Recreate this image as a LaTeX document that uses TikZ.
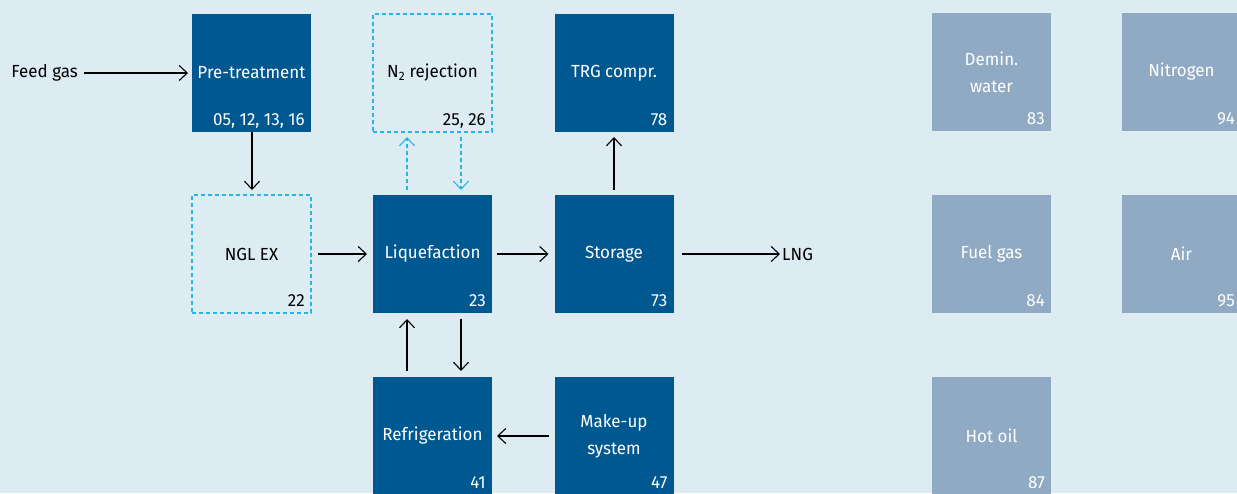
\documentclass[tikz,border=0pt]{standalone}
\usepackage{fontspec}
\setmainfont[FakeStretch=0.97]{Fira Sans}
\usetikzlibrary{arrows.meta}
\definecolor{bg}{RGB}{221,235,243}
\definecolor{dblue}{RGB}{0,88,145}
\definecolor{gblue}{RGB}{143,170,194}
\definecolor{cyanl}{RGB}{40,180,230}
\begin{document}
\begin{tikzpicture}[x=1pt,y=-1pt,
 box/.style={minimum width=119pt,minimum height=118pt,inner sep=0pt,outer sep=0pt,align=center,font=\fontsize{17.5}{27}\selectfont},
 dark/.style={box,fill=dblue,text=white},
 grey/.style={box,fill=gblue,text=white},
 dbox/.style={box,draw=cyanl,dash pattern=on 4pt off 3pt,line width=1.2pt,text=black},
 num/.style={anchor=base east,inner sep=0pt,font=\fontsize{17.5}{21}\selectfont},
 plain/.style={inner sep=0pt,font=\fontsize{17.5}{21}\selectfont},
 flow/.style={draw=black,line width=1.1pt,-{Straight Barb[length=8pt,width=15pt]}},
 dflow/.style={draw=cyanl,line width=1.1pt,dash pattern=on 4pt off 3pt,-{Straight Barb[length=8pt,width=15pt]}}]
\useasboundingbox (0,0) rectangle (1237,493);
\clip (0,0) rectangle (1237,493);
\fill[bg] (0,0) rectangle (1237,493);

% boxes
\node[dark] (pre) at (251.5,73) {Pre-treatment};
\node[dbox] (n2) at (432.5,73) {N\textsubscript{2} rejection};
\node[dark] (trg) at (614,73) {TRG compr.};
\node[dbox] (ngl) at (251.5,254) {NGL EX};
\node[dark] (liq) at (432.5,254) {Liquefaction};
\node[dark] (sto) at (614,254) {Storage};
\node[dark] (ref) at (432.5,436) {Refrigeration};
\node[dark] (mak) at (614,436) {Make-up\\system};
\node[grey] (dem) at (991.5,72) {Demin.\\water};
\node[grey] (nit) at (1181.5,72) {Nitrogen};
\node[grey] (fue) at (991.5,254) {Fuel gas};
\node[grey] (air) at (1181.5,254) {Air};
\node[grey] (hot) at (991.5,436) {Hot oil};

% numbers
\node[num,text=white] (npre) at ([xshift=-6pt,yshift=7pt]pre.south east) {05, 12, 13, 16};
\node[num,text=black] (nn2) at ([xshift=-6pt,yshift=7pt]n2.south east) {25, 26};
\node[num,text=white] (ntrg) at ([xshift=-6pt,yshift=7pt]trg.south east) {78};
\node[num,text=black] (nngl) at ([xshift=-6pt,yshift=7pt]ngl.south east) {22};
\node[num,text=white] (nliq) at ([xshift=-6pt,yshift=7pt]liq.south east) {23};
\node[num,text=white] (nsto) at ([xshift=-6pt,yshift=7pt]sto.south east) {73};
\node[num,text=white] (nref) at ([xshift=-6pt,yshift=7pt]ref.south east) {41};
\node[num,text=white] (nmak) at ([xshift=-6pt,yshift=7pt]mak.south east) {47};
\node[num,text=white] (ndem) at ([xshift=-6pt,yshift=7pt]dem.south east) {83};
\node[num,text=white] (nnit) at ([xshift=-6pt,yshift=7pt]nit.south east) {94};
\node[num,text=white] (nfue) at ([xshift=-6pt,yshift=7pt]fue.south east) {84};
\node[num,text=white] (nair) at ([xshift=-6pt,yshift=7pt]air.south east) {95};
\node[num,text=white] (nhot) at ([xshift=-6pt,yshift=7pt]hot.south east) {87};

% free labels
\node[plain,anchor=east] (feed) at (78,73) {Feed gas};
\node[plain,anchor=west] (lng) at (782,254) {LNG};

% connectors
\draw[flow,shorten <=6pt,shorten >=4pt] (feed.east) -- (pre.west);
\draw[flow,shorten >=5pt] ([xshift=0.5pt]pre.south) -- ([xshift=0.5pt]ngl.north);
\draw[flow,shorten <=7pt,shorten >=6pt] (ngl.east) -- (liq.west);
\draw[flow,shorten <=5pt,shorten >=6pt] (liq.east) -- (sto.west);
\draw[flow,shorten <=8pt,shorten >=2pt] (sto.east) -- (lng.west);
\draw[flow,shorten <=5pt,shorten >=5pt] (sto.north) -- (trg.south);
\draw[dflow,shorten <=5pt,shorten >=5pt] ([xshift=-25.5pt]liq.north) -- ([xshift=-25.5pt]n2.south);
\draw[dflow,shorten <=5pt,shorten >=5pt] ([xshift=28.5pt]n2.south) -- ([xshift=28.5pt]liq.north);
\draw[flow,shorten <=6pt,shorten >=6pt] ([xshift=-25.5pt]ref.north) -- ([xshift=-25.5pt]liq.south);
\draw[flow,shorten <=6pt,shorten >=6pt] ([xshift=28.5pt]liq.south) -- ([xshift=28.5pt]ref.north);
\draw[flow,shorten <=6pt,shorten >=5pt] (mak.west) -- (ref.east);
\end{tikzpicture}
\end{document}
